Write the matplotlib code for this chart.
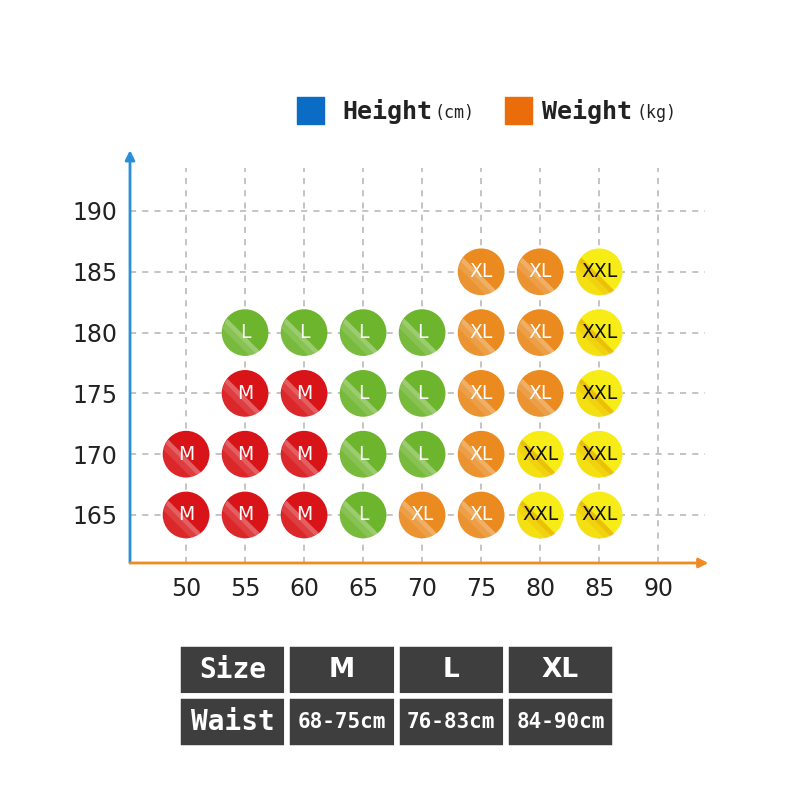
import numpy as np
import matplotlib
matplotlib.use('Agg')
import matplotlib.pyplot as plt
from matplotlib.path import Path

# data
weights = [50, 55, 60, 65, 70, 75, 80, 85,
           50, 55, 60, 65, 70, 75, 80, 85,
           55, 60, 65, 70, 75, 80, 85,
           55, 60, 65, 70, 75, 80, 85,
           75, 80, 85]
heights = [165] * 8 + [170] * 8 + [175] * 7 + [180] * 7 + [185] * 3
sizes = ['M', 'M', 'M', 'L', 'XL', 'XL', 'XXL', 'XXL',
         'M', 'M', 'M', 'L', 'L', 'XL', 'XXL', 'XXL',
         'M', 'M', 'L', 'L', 'XL', 'XL', 'XXL',
         'L', 'L', 'L', 'L', 'XL', 'XL', 'XXL',
         'XL', 'XL', 'XXL']
x_ticks = [50, 55, 60, 65, 70, 75, 80, 85, 90]
y_ticks = [165, 170, 175, 180, 185, 190]

table_header = ['Size', 'M', 'L', 'XL']
table_waist = ['Waist', '68-75cm', '76-83cm', '84-90cm']

size_color = {'M': '#d81418', 'L': '#6db52c', 'XL': '#ea8a1f', 'XXL': '#f8ec16'}
text_color = {'M': 'white', 'L': 'white', 'XL': 'white', 'XXL': '#111111'}
shade_color = {'M': 'white', 'L': 'white', 'XL': 'white', 'XXL': '#e0a000'}


def band_path(d1, d2):
    # region of the unit disk between two chords parallel to the
    # upper-left / lower-right diagonal, offset toward lower-left
    c = np.deg2rad(225)
    a1 = np.arccos(d1)
    a2 = np.arccos(min(d2, 0.999))
    t_out1 = np.linspace(c - a1, c - a2, 20)
    t_out2 = np.linspace(c + a2, c + a1, 20)
    pts = list(zip(np.cos(t_out1), np.sin(t_out1)))
    pts += list(zip(np.cos(t_out2), np.sin(t_out2)))
    pts.append(pts[0])
    verts = np.array(pts)
    return Path(verts, closed=True), np.abs(verts).max()


fig = plt.figure(figsize=(8, 8), dpi=100, facecolor='white')
ax = fig.add_axes([0.1625, 0.29625, 0.734, 0.516])
ax.set_xlim(45.25, 95)
ax.set_ylim(161.05, 195)

for s in ax.spines.values():
    s.set_visible(False)

ax.set_xticks(x_ticks)
ax.set_yticks(y_ticks)
ax.tick_params(length=0, labelsize=17, colors='#222222')
ax.tick_params(axis='x', pad=10)
ax.tick_params(axis='y', pad=9)

# dashed grid
for xv in x_ticks:
    ax.plot([xv, xv], [161.05, 193.5], color='#b4b4b4', lw=1.1,
            ls=(0, (4, 4)), zorder=1)
for yv in y_ticks:
    ax.plot([45.25, 94], [yv, yv], color='#b4b4b4', lw=1.1,
            ls=(0, (4, 4)), zorder=1)

# axes arrows
ax.annotate('', xy=(0, 1.0), xytext=(0, 0), xycoords='axes fraction',
            arrowprops=dict(arrowstyle='-|>', color='#2b8fd8', lw=2,
                            mutation_scale=14, shrinkA=0, shrinkB=0),
            annotation_clip=False)
ax.annotate('', xy=(0.985, 0), xytext=(0, 0), xycoords='axes fraction',
            arrowprops=dict(arrowstyle='-|>', color='#f08a24', lw=2,
                            mutation_scale=14, shrinkA=0, shrinkB=0),
            annotation_clip=False)

# circles
S = 1130
cols = [size_color[s] for s in sizes]
ax.scatter(weights, heights, s=S, c=cols, marker='o', linewidths=0, zorder=3)

bands = [(0.10, 0.30, 0.32), (0.30, 0.55, 0.18), (0.55, 1.0, 0.08)]
for d1, d2, alpha in bands:
    p, m = band_path(d1, d2)
    for key in size_color:
        xs = [w for w, s in zip(weights, sizes) if s == key]
        ys = [h for h, s in zip(heights, sizes) if s == key]
        a = alpha * (1.8 if key == 'XXL' else 1.0)
        ax.scatter(xs, ys, s=S * m ** 2, marker=p, color=shade_color[key],
                   alpha=min(a, 0.6), linewidths=0, zorder=4)

for w, h, s in zip(weights, heights, sizes):
    ax.text(w, h, s, ha='center', va='center', fontsize=13.5,
            color=text_color[s], zorder=5)

# legend
fig.patches.append(plt.Rectangle((297 / 800, 1 - 124 / 800), 27 / 800, 27 / 800,
                                 transform=fig.transFigure, color='#0a6cc4'))
fig.patches.append(plt.Rectangle((505 / 800, 1 - 124 / 800), 27 / 800, 27 / 800,
                                 transform=fig.transFigure, color='#ea6c0a'))
fig.text(342 / 800, 1 - 111 / 800, 'Height', fontsize=18, fontweight='bold',
         family='DejaVu Sans Mono', va='center', color='#222222')
fig.text(435 / 800, 1 - 113 / 800, '(cm)', fontsize=12,
         family='DejaVu Sans Mono', va='center', color='#222222')
fig.text(542 / 800, 1 - 111 / 800, 'Weight', fontsize=18, fontweight='bold',
         family='DejaVu Sans Mono', va='center', color='#222222')
fig.text(636 / 800, 1 - 113 / 800, '(kg)', fontsize=12,
         family='DejaVu Sans Mono', va='center', color='#222222')

# size table
tax = fig.add_axes([178 / 800, 1 - 748 / 800, 437 / 800, 104 / 800])
tax.axis('off')
tbl = tax.table(cellText=[table_header, table_waist], bbox=[0, 0, 1, 1],
                cellLoc='center')
tbl.auto_set_font_size(False)
for (r, c), cell in tbl.get_celld().items():
    cell.set_facecolor('#3e3e3e')
    cell.set_edgecolor('white')
    cell.set_linewidth(4)
    t = cell.get_text()
    t.set_color('white')
    t.set_fontweight('bold')
    if c == 0:
        t.set_fontsize(20)
        t.set_family('DejaVu Sans Mono')
    elif r == 0:
        t.set_fontsize(19)
    else:
        t.set_fontsize(15)
        t.set_family('DejaVu Sans Mono')

fig.savefig('out.png', dpi=100, facecolor='white')
